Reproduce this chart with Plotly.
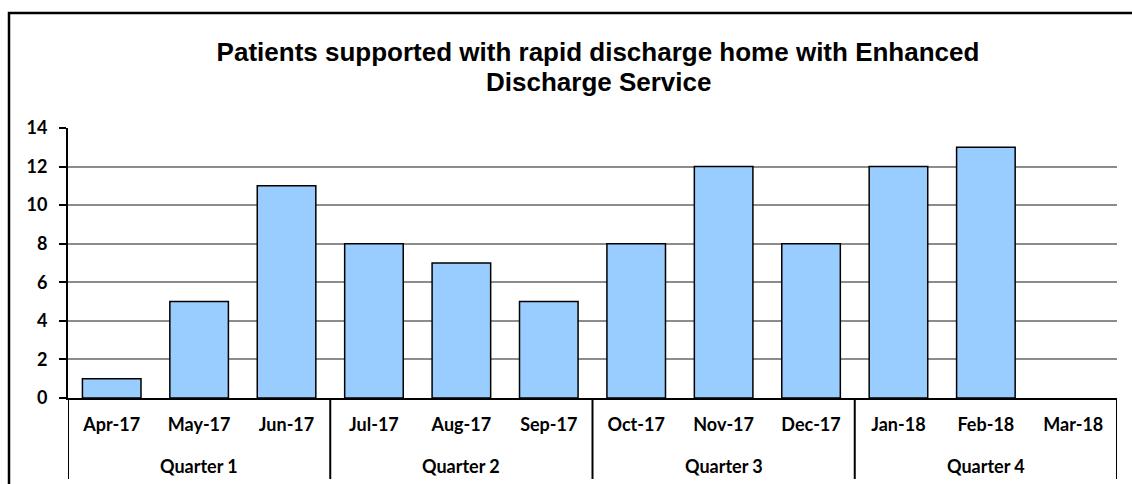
import plotly.graph_objects as go

months = ["Apr-17", "May-17", "Jun-17", "Jul-17", "Aug-17", "Sep-17",
          "Oct-17", "Nov-17", "Dec-17", "Jan-18", "Feb-18", "Mar-18"]
quarters = ["Quarter 1", "Quarter 2", "Quarter 3", "Quarter 4"]
months_per_quarter = 3
patients = [1, 5, 11, 8, 7, 5, 8, 12, 8, 12, 13, None]
y_ticks = [0, 2, 4, 6, 8, 10, 12, 14]
title_lines = ["Patients supported with rapid discharge home with Enhanced",
               "Discharge Service"]

W, H = 1132, 484
L, R, T, B = 68, 15, 128, 86
pw, ph = W - L - R, H - T - B

fig = go.Figure(go.Bar(
    x=months, y=patients,
    marker=dict(color="#99CCFF", line=dict(color="black", width=1.5)),
))

tickfont = dict(family="Lato, Carlito, Calibri, sans-serif", size=18, color="black", weight="bold")
titlefont = dict(family="Liberation Sans, Arial, sans-serif", size=26, color="black", weight="bold")

# quarter labels and dividers placed on the x axis scale
annotations = []
shapes = []
for qi, q in enumerate(quarters):
    mid = months[qi * months_per_quarter + 1]
    annotations.append(dict(
        x=mid, xref="x", y=(398 - 466) / ph, yref="paper",
        text=q, showarrow=False, font=tickfont,
        xanchor="center", yanchor="middle",
    ))
for k in range(len(quarters) + 1):
    xpos = k * months_per_quarter - 0.5
    shapes.append(dict(
        type="line", xref="x", yref="paper",
        x0=xpos, x1=xpos, y0=0, y1=(398 - 479) / ph,
        line=dict(color="black", width=2),
    ))

# second title line (tighter line spacing than plotly's default)
annotations.append(dict(
    x=(598 - L) / pw, xref="paper", y=(398 - 82) / ph, yref="paper",
    text=title_lines[1], showarrow=False, font=titlefont,
    xanchor="center", yanchor="middle",
))

shapes.append(dict(
    type="rect", xref="paper", yref="paper",
    x0=(9 - L) / pw, x1=(W + 20 - L) / pw,
    y0=-(B + 20) / ph, y1=(H - B - 13) / ph,
    line=dict(color="black", width=2.5), fillcolor="rgba(0,0,0,0)", layer="below",
))

fig.update_layout(
    width=W, height=H,
    margin=dict(l=L, r=R, t=T, b=B),
    paper_bgcolor="white", plot_bgcolor="white",
    bargap=0.33,
    showlegend=False,
    title=dict(
        text=title_lines[0],
        font=titlefont,
        x=598 / W, xref="container", xanchor="center",
        y=1 - 52 / H, yref="container", yanchor="middle",
    ),
    xaxis=dict(
        type="category", range=[-0.5, len(months) - 0.5],
        showline=True, linecolor="black", linewidth=2,
        tickfont=tickfont, ticklabelstandoff=9,
        ticks="", showgrid=False,
    ),
    yaxis=dict(
        range=[0, 14], tickvals=y_ticks,
        showline=True, linecolor="black", linewidth=2,
        ticks="outside", ticklen=7, tickwidth=2, tickcolor="black",
        showgrid=True, gridcolor="#8c8c8c", gridwidth=1.8,
        zeroline=False,
        tickfont=tickfont, ticklabelstandoff=8,
    ),
    annotations=annotations,
    shapes=shapes,
)

fig.write_html("out.html")
